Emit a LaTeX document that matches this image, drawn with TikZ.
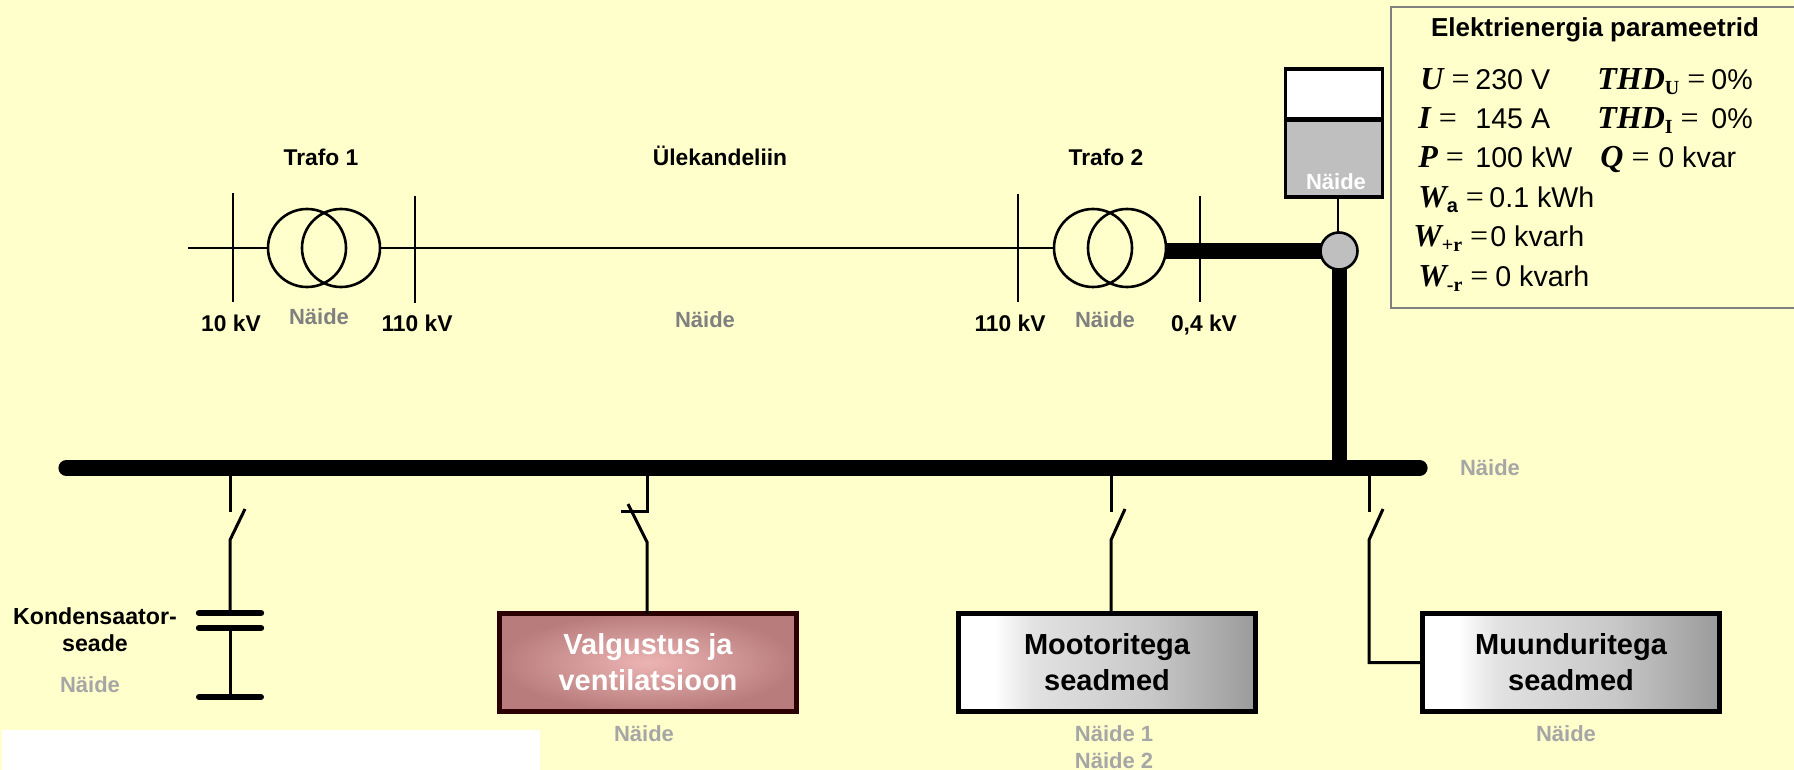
\documentclass[tikz,border=0pt]{standalone}
\usepackage{fontspec}
\setmainfont{Liberation Sans}
\newfontfamily\serifpar{Liberation Serif}
\usetikzlibrary{positioning}
\definecolor{paper}{HTML}{FFFFCB}
\definecolor{naide}{HTML}{A6A6A6}
\definecolor{naidetop}{HTML}{808080}
\definecolor{darkred}{HTML}{2A0000}
\definecolor{pinkin}{HTML}{EDB4B4}
\definecolor{pinkout}{HTML}{B87C7C}
\definecolor{grayA}{HTML}{E2E2E2}
\definecolor{grayB}{HTML}{C8C8C8}
\definecolor{grayC}{HTML}{9A9A9A}
\pgfdeclarehorizontalshading{loadshade}{100bp}{color(0bp)=(white); color(31bp)=(white); color(37.5bp)=(grayA); color(57.5bp)=(grayB); color(75bp)=(grayC); color(100bp)=(grayC)}
\newcommand{\qtysym}[1]{{\serifpar\bfseries\itshape\fontsize{16}{16}\selectfont #1}}
\newcommand{\ind}[1]{\raisebox{-0.3ex}{\serifpar\bfseries\fontsize{10}{10}\selectfont #1}}
\newcommand{\eqs}{{\serifpar\fontsize{16}{16}\selectfont\ =}}
\begin{document}
\begin{tikzpicture}[x=0.5pt,y=-0.5pt,
            lab/.style={font=\fontsize{11.4}{11.4}\selectfont\bfseries, inner sep=0pt, anchor=base},
            naid/.style={lab, font=\fontsize{11}{11}\selectfont\bfseries, text=naide},
            naidt/.style={lab, font=\fontsize{11}{11}\selectfont\bfseries, text=naidetop},
            val/.style={font=\fontsize{14.3}{14.3}\selectfont, inner sep=0pt, anchor=base west},
            loadbox/.style={draw=black, line width=2.5pt, shading=loadshade, minimum width=148.5pt, minimum height=49pt, inner sep=0pt, outer sep=0pt, align=center, font=\fontsize{14.5}{18}\selectfont\bfseries},
            lightbox/.style={draw=darkred, line width=2.5pt, inner color=pinkin, outer color=pinkout, minimum width=148.5pt, minimum height=49pt, inner sep=0pt, outer sep=0pt, align=center, text=white, font=\fontsize{14.5}{18}\selectfont\bfseries},
            winding/.style={circle, draw, line width=1.3pt, minimum size=39pt, inner sep=0pt, outer sep=0pt},
            thin line/.style={line width=1.3pt},
            feeder/.style={line width=1.5pt},
            plate/.style={line width=3.2pt, line cap=round}]
            \path[fill=paper] (0,0) rectangle (1794,770);
            \useasboundingbox (0,0) rectangle (1794,770);
            \path[fill=white] (2,730) rectangle (540,770);

            % upper line
            \node[winding] (t1a) at (307,248) {};
            \node[winding] (t1b) at (341,248) {};
            \node[winding] (t2a) at (1093,248) {};
            \node[winding] (t2b) at (1127,248) {};
            \coordinate (feed) at (188,248);
            \coordinate (u1) at (233,193);  \coordinate (d1) at (233,302);
            \coordinate (u2) at (415,196);  \coordinate (d2) at (415,303);
            \coordinate (u3) at (1018,194); \coordinate (d3) at (1018,302);
            \coordinate (u4) at (1200,196); \coordinate (d4) at (1200,302);
            \draw[thin line] (feed) -- (t1a.west);
            \draw[thin line] (t1b.east) -- (t2a.west);
            \draw[thin line] (u1) -- (d1);
            \draw[thin line] (u2) -- (d2);
            \draw[thin line] (u3) -- (d3);
            \draw[thin line] (u4) -- (d4);

            % meter
            \node[circle, draw, fill=black!25, line width=1.3pt, minimum size=18.5pt, inner sep=0pt, outer sep=0pt] (pcc) at (1339,251) {};
            \node[rectangle, draw, fill=black!25, line width=1.7pt, minimum width=48.5pt, minimum height=38.5pt, inner sep=0pt] (mlow) at (1334,158.5) {};
            \node[rectangle, draw, fill=white, line width=1.7pt, minimum width=48.5pt, minimum height=25pt, inner sep=0pt] (mtop) at (1334,94) {};
            \node[naid, text=white] (mnaide) at (1336,190) {Näide};
            \coordinate (stem) at (1338,198);
            \draw[thin line] (stem) -- (stem |- pcc.north);

            % bus
            \node[inner sep=0pt] (busl) at (65,468) {};
            \node[inner sep=0pt] (busr) at (1421,468) {};
            \draw[line width=8pt, line cap=round] (busl) -- (busr);
            \draw[line width=8pt] (t2b.east |- pcc) -- (pcc.west);
            \draw[line width=7.5pt] (pcc.south) -- (pcc.south |- busl);

            % branches
            \coordinate (b1) at (230,476); \coordinate (b1c) at (230,512); \coordinate (b1h) at (230,540); \coordinate (b1t) at (245,509);
            \coordinate (b2) at (647,476); \coordinate (b2c) at (647,511); \coordinate (b2h) at (647,542); \coordinate (b2t) at (628,504);
            \coordinate (b2x) at (621,511);
            \coordinate (b3) at (1111,476); \coordinate (b3c) at (1111,512); \coordinate (b3h) at (1111,540); \coordinate (b3t) at (1125,509);
            \coordinate (b4) at (1369,476); \coordinate (b4c) at (1369,512); \coordinate (b4h) at (1369,540); \coordinate (b4t) at (1383,509);

            \node[lightbox] (valg) at (648,662.5) {Valgustus ja\\ventilatsioon};
            \node[loadbox] (moot) at (1107,662.5) {Mootoritega\\seadmed};
            \node[loadbox] (muun) at (1571,662.5) {Muunduritega\\seadmed};

            \coordinate (capa) at (230,613);
            \coordinate (capb) at (230,628);
            \coordinate (gnd) at (230,697);
            \draw[plate] (199,613) -- (261,613);
            \draw[plate] (199,628) -- (261,628);
            \draw[plate, line width=3pt] (199,697) -- (261,697);

            \draw[feeder] (b1) -- (b1c);
            \draw[feeder] (b1t) -- (b1h) -- (capa);
            \draw[feeder] (capb) -- (gnd);
            \draw[feeder] (b2) -- (b2c) -- (b2x);
            \draw[feeder] (b2t) -- (b2h) -- (b2h |- valg.north);
            \draw[feeder] (b3) -- (b3c);
            \draw[feeder] (b3t) -- (b3h) -- (b3h |- moot.north);
            \draw[feeder] (b4) -- (b4c);
            \draw[feeder] (b4t) -- (b4h) |- (muun.west);

            % labels
            \node[lab] (trafoa) at (321,166) {Trafo 1};
            \node[lab] (liin) at (720,166) {Ülekandeliin};
            \node[lab] (trafob) at (1106,166) {Trafo 2};
            \node[lab] (kva) at (231,331) {10 kV};
            \node[naidt] (na) at (319,325) {Näide};
            \node[lab] (kvb) at (417,331) {110 kV};
            \node[naidt] (nb) at (705,328) {Näide};
            \node[lab] (kvc) at (1010,331) {110 kV};
            \node[naidt] (nc) at (1105,328) {Näide};
            \node[lab] (kvd) at (1204,331) {0,4 kV};
            \node[naid] (nbus) at (1490,475) {Näide};
            \node[lab, font=\fontsize{11.6}{11.6}\selectfont\bfseries] (kond) at (95,624) {Kondensaator-};
            \node[lab, font=\fontsize{11.6}{11.6}\selectfont\bfseries] (sead) at (95,651) {seade};
            \node[naid] (nkond) at (90,692) {Näide};
            \node[naid] (nvalg) at (644,741) {Näide};
            \node[naid] (nmota) at (1114,741) {Näide 1};
            \node[naid] (nmotb) at (1114,768) {Näide 2};
            \node[naid] (nmuun) at (1566,741) {Näide};

            % parameters
            \draw[naidetop, line width=1pt] (1800,7) -- (1391,7) -- (1391,308) -- (1800,308);
            \node[lab, font=\fontsize{13}{13}\selectfont\bfseries] (ptitle) at (1595,37) {Elektrienergia parameetrid};
            \node[val] (pu) at (1420,90) {\qtysym{U}\eqs};
            \node[val] (puv) at (1475,90) {230 V};
            \node[val] (pthu) at (1597,90) {\qtysym{THD}\ind{U}\eqs};
            \node[val] (pthuv) at (1711,90) {0\%};
            \node[val] (pi) at (1418,129) {\qtysym{I}\eqs};
            \node[val] (piv) at (1475,129) {145 A};
            \node[val] (pthi) at (1597,129) {\qtysym{THD}\ind{I}\eqs};
            \node[val] (pthiv) at (1711,129) {0\%};
            \node[val] (pp) at (1418,168) {\qtysym{P}\eqs};
            \node[val] (ppv) at (1475,168) {100 kW};
            \node[val] (pq) at (1600,168) {\qtysym{Q}\eqs};
            \node[val] (pqv) at (1658,168) {0 kvar};
            \node[val] (pwa) at (1418,208) {\qtysym{W}\raisebox{-0.3ex}{\fontsize{10}{10}\selectfont\bfseries a}\eqs};
            \node[val] (pwav) at (1489,208) {0.1 kWh};
            \node[val] (pwp) at (1413,247) {\qtysym{W}\ind{+r}\eqs};
            \node[val] (pwpv) at (1490,247) {0 kvarh};
            \node[val] (pwm) at (1418,287) {\qtysym{W}\ind{-r}\eqs};
            \node[val] (pwmv) at (1495,287) {0 kvarh};
        \end{tikzpicture}
\end{document}
